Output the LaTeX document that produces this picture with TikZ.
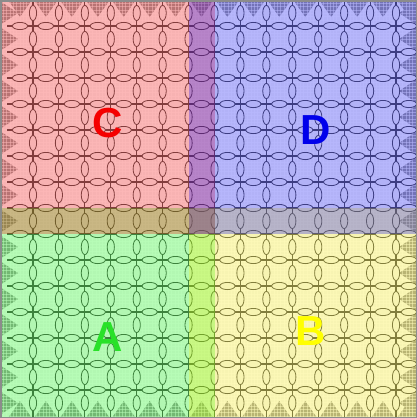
\documentclass[tikz,border=0pt]{standalone}
\usepackage{fontspec}
\setmainfont{Liberation Sans}
\definecolor{basec}{gray}{0.96}
\definecolor{tric}{gray}{0.62}
\definecolor{linec}{gray}{0.33}
\definecolor{framec}{gray}{0.55}
\definecolor{letA}{RGB}{40,225,40}
\definecolor{letB}{RGB}{255,255,0}
\definecolor{letC}{RGB}{245,0,0}
\definecolor{letD}{RGB}{0,0,235}
\tikzset{
  coarse/.style={draw=linec, line width=1.1pt},
  ringh/.style={draw=linec, fill=basec, line width=0.8pt},
  finegrid/.style={draw=white, line width=0.35pt, opacity=0.5},
  tri/.style={fill=tric, draw=none},
  overlay/.style={fill=#1, fill opacity=0.27, draw=none},
  letter/.style={font=\fontsize{42}{42}\selectfont\bfseries, text=#1, inner sep=0pt}
}
\begin{document}
\begin{tikzpicture}[x=1pt,y=-1pt]
\useasboundingbox (0,0) rectangle (417,418);
\fill[basec] (0,0) rectangle (417,418);
% edge triangles
\foreach \k in {0,...,15}{
  \pgfmathsetmacro{\m}{20+25.93*\k}
  \pgfmathsetmacro{\n}{13+26*\k}
  \fill[tri] (\m-12,0) -- (\m+12,0) -- (\m,17) -- cycle;
  \fill[tri] (\m-12,418) -- (\m+12,418) -- (\m,401) -- cycle;
  \fill[tri] (0,\n-12) -- (0,\n+12) -- (18,\n) -- cycle;
  \fill[tri] (417,\n-12) -- (417,\n+12) -- (399,\n) -- cycle;
}
% fine texture grid
\foreach \t in {0,3.3,...,418}{
  \draw[finegrid] (\t,0) -- (\t,418);
  \draw[finegrid] (0,\t) -- (417,\t);
}
% coarse lines
\foreach \k in {0,...,14}{
  \pgfmathsetmacro{\vx}{33+25.93*\k}
  \pgfmathsetmacro{\hy}{26+26*\k}
  \draw[coarse] (\vx,0) -- (\vx,418);
  \draw[coarse] (7,\hy) -- (417,\hy);
}
% ellipses
\foreach \i in {0,...,15}{
  \foreach \j in {0,...,14}{
    \pgfmathsetmacro{\ex}{20+25.93*\i}
    \pgfmathsetmacro{\ey}{26+26*\j}
    \draw[ringh] (\ex,\ey) ellipse [x radius=7.6, y radius=3.6];
    \pgfmathsetmacro{\fx}{33+25.93*\j}
    \pgfmathsetmacro{\fy}{13+26*\i}
    \draw[ringh] (\fx,\fy) ellipse [x radius=3.6, y radius=7.6];
  }
}
% colour overlays
\fill[overlay=green] (0,208) rectangle (215,418);
\fill[overlay=yellow] (189,208) rectangle (417,418);
\fill[overlay=red] (0,0) rectangle (215,234);
\fill[overlay=blue] (189,0) rectangle (417,234);
% letters
\node[letter=letC] (lc) at (108,123) {C};
\node[letter=letD] (ld) at (316,130) {D};
\node[letter=letA] (la) at (108,337) {A};
\node[letter=letB] (lb) at (311,331) {B};
% frame
\draw[framec, line width=1.5pt] (0.75,0.75) rectangle (416.25,417.25);
\end{tikzpicture}
\end{document}
